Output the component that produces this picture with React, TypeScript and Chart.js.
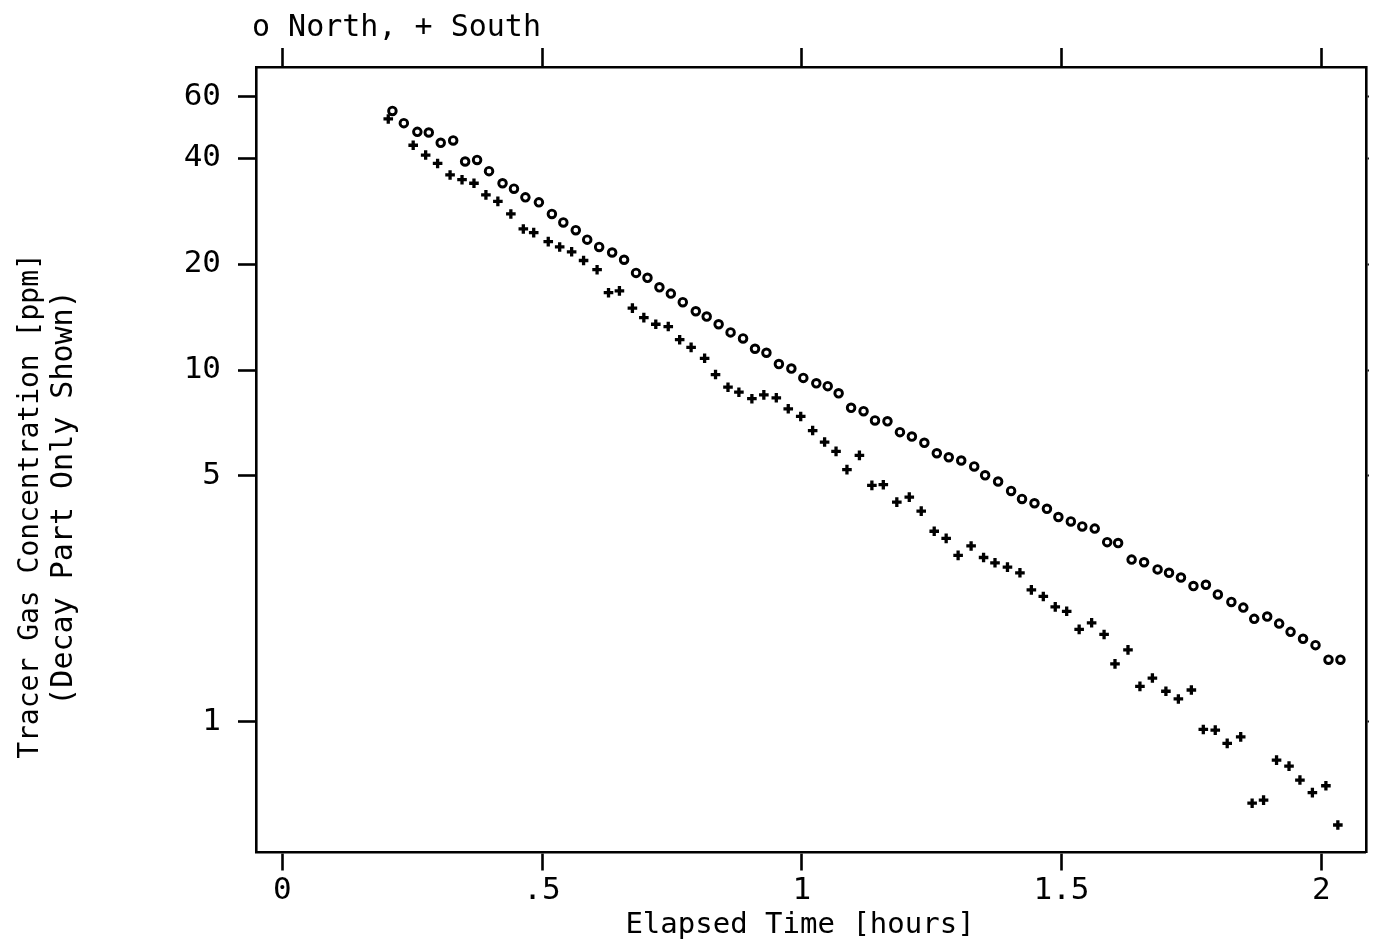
import React, { useEffect, useRef } from "react";
import { Chart, registerables } from "chart.js";

Chart.register(...registerables);

// Elapsed time [hours] and tracer gas concentration [ppm]
const northTime = [
  0.212, 0.234, 0.26, 0.282, 0.305, 0.329, 0.352, 0.375, 0.398, 0.424,
  0.446, 0.468, 0.494, 0.519, 0.541, 0.565, 0.587, 0.61, 0.635, 0.658,
  0.681, 0.703, 0.726, 0.748, 0.771, 0.796, 0.817, 0.84, 0.863, 0.887,
  0.91, 0.932, 0.956, 0.98, 1.003, 1.028, 1.05, 1.071, 1.095, 1.119,
  1.141, 1.165, 1.189, 1.212, 1.236, 1.26, 1.283, 1.307, 1.332, 1.353,
  1.378, 1.403, 1.424, 1.448, 1.472, 1.494, 1.518, 1.54, 1.564, 1.588,
  1.609, 1.635, 1.659, 1.685, 1.707, 1.73, 1.754, 1.778, 1.801, 1.827,
  1.85, 1.871, 1.896, 1.919, 1.941, 1.965, 1.989, 2.014, 2.037,
];
const northConc = [
  54.6, 50.4, 47.6, 47.4, 44.3, 45.0, 39.2, 39.6, 36.8, 34.0,
  32.8, 31.0, 30.0, 27.8, 26.3, 25.0, 23.5, 22.4, 21.6, 20.6,
  18.9, 18.3, 17.2, 16.5, 15.6, 14.7, 14.2, 13.5, 12.8, 12.3,
  11.5, 11.2, 10.4, 10.1, 9.5, 9.17, 9.0, 8.59, 7.81, 7.64,
  7.19, 7.15, 6.66, 6.47, 6.21, 5.8, 5.65, 5.53, 5.32, 5.02,
  4.82, 4.53, 4.3, 4.18, 4.03, 3.82, 3.71, 3.59, 3.54, 3.24,
  3.22, 2.89, 2.84, 2.71, 2.65, 2.57, 2.43, 2.45, 2.3, 2.19,
  2.11, 1.96, 1.99, 1.9, 1.8, 1.72, 1.65, 1.5, 1.5,
];
const southTime = [
  0.204, 0.252, 0.276, 0.299, 0.323, 0.346, 0.369, 0.392, 0.415, 0.44,
  0.464, 0.484, 0.512, 0.534, 0.557, 0.58, 0.606, 0.628, 0.649, 0.674,
  0.696, 0.719, 0.743, 0.765, 0.787, 0.813, 0.834, 0.858, 0.879, 0.904,
  0.927, 0.951, 0.974, 0.998, 1.021, 1.044, 1.066, 1.087, 1.111, 1.135,
  1.157, 1.183, 1.207, 1.23, 1.255, 1.278, 1.301, 1.326, 1.35, 1.372,
  1.396, 1.42, 1.442, 1.465, 1.488, 1.51, 1.534, 1.558, 1.582, 1.603,
  1.628, 1.651, 1.675, 1.701, 1.725, 1.75, 1.773, 1.796, 1.819, 1.845,
  1.867, 1.889, 1.914, 1.938, 1.959, 1.983, 2.009, 2.032,
];
const southConc = [
  51.8, 43.6, 40.9, 38.7, 35.9, 34.8, 34.0, 31.5, 30.2, 27.8,
  25.2, 24.6, 23.2, 22.4, 21.7, 20.5, 19.3, 16.6, 16.8, 15.0,
  14.1, 13.5, 13.3, 12.2, 11.6, 10.8, 9.71, 8.94, 8.65, 8.29,
  8.5, 8.34, 7.76, 7.38, 6.73, 6.24, 5.87, 5.21, 5.72, 4.7,
  4.72, 4.21, 4.35, 3.97, 3.48, 3.32, 2.97, 3.16, 2.93, 2.83,
  2.75, 2.65, 2.37, 2.27, 2.12, 2.06, 1.83, 1.91, 1.77, 1.46,
  1.6, 1.26, 1.33, 1.22, 1.16, 1.23, 0.95, 0.946, 0.867, 0.905,
  0.586, 0.598, 0.777, 0.747, 0.682, 0.628, 0.657, 0.508,
];

const xTickValues = [0, 0.5, 1, 1.5, 2];
const xTickLabels = ["0", ".5", "1", "1.5", "2"];
const yTickValues = [1, 5, 10, 20, 40, 60];
const yTickLabels = ["1", "5", "10", "20", "40", "60"];

const headerText = "o North, + South";
const xTitle = "Elapsed Time [hours]";
const yTitleLines = ["Tracer Gas Concentration [ppm]", "(Decay Part Only Shown)"];

const FONT = "'DejaVu Sans Mono', monospace";

const titlesPlugin = {
  id: "titles",
  afterDraw(chart: any) {
    const ctx = chart.ctx;
    ctx.save();
    ctx.fillStyle = "#000";
    ctx.textBaseline = "alphabetic";
    ctx.font = `30px ${FONT}`;
    ctx.textAlign = "left";
    ctx.fillText(headerText, 252, 36);
    ctx.font = `29px ${FONT}`;
    ctx.textAlign = "center";
    ctx.fillText(xTitle, 800, 933);
    ctx.save();
    ctx.font = `28px ${FONT}`;
    ctx.translate(38, 506);
    ctx.rotate(-Math.PI / 2);
    ctx.fillText(yTitleLines[0], 0, 0);
    ctx.restore();
    ctx.save();
    ctx.font = `30px ${FONT}`;
    ctx.translate(72, 498);
    ctx.rotate(-Math.PI / 2);
    ctx.fillText(yTitleLines[1], 0, 0);
    ctx.restore();
    ctx.restore();
  },
};

const LINE = 2.6;

export default function App() {
  const ref = useRef<HTMLCanvasElement>(null);
  useEffect(() => {
    if (!ref.current) return;
    const setX = (s: any) => {
      s.ticks = xTickValues.map((v) => ({ value: v }));
    };
    const setY = (s: any) => {
      s.ticks = yTickValues.map((v) => ({ value: v }));
    };
    const xMin = -0.0506;
    const xMax = 2.086;
    const yMin = 0.4243;
    const yMax = 72.8;
    const chart = new Chart(ref.current, {
      type: "scatter",
      data: {
        datasets: [
          {
            label: "North",
            data: northTime.map((t, i) => ({ x: t, y: northConc[i] })),
            pointStyle: "circle",
            pointRadius: 3.8,
            pointBorderWidth: 2.9,
            pointBackgroundColor: "rgba(255,255,255,0)",
            pointBorderColor: "#000",
            showLine: false,
          },
          {
            label: "South",
            data: southTime.map((t, i) => ({ x: t, y: southConc[i] })),
            pointStyle: "cross",
            pointRadius: 4.8,
            pointBorderWidth: 3.3,
            pointBackgroundColor: "#000",
            pointBorderColor: "#000",
            showLine: false,
          },
        ],
      },
      options: {
        responsive: false,
        devicePixelRatio: 1,
        animation: false,
        layout: { padding: 0 },
        plugins: {
          legend: { display: false },
          tooltip: { enabled: false },
          title: { display: false },
        },
        scales: {
          x: {
            type: "linear",
            position: "bottom",
            min: xMin,
            max: xMax,
            afterBuildTicks: setX,
            afterFit: (s: any) => {
              s.height = 91.5;
            },
            grid: {
              display: true,
              drawOnChartArea: false,
              drawTicks: true,
              tickLength: 18,
              tickWidth: LINE,
              tickColor: "#000",
            },
            border: { display: true, color: "#000", width: LINE },
            ticks: {
              autoSkip: false,
              maxRotation: 0,
              color: "#000",
              padding: 2,
              font: { family: FONT, size: 31 },
              callback: (v: any, i: number) => xTickLabels[i],
            },
          },
          x2: {
            type: "linear",
            position: "top",
            min: xMin,
            max: xMax,
            afterBuildTicks: setX,
            afterFit: (s: any) => {
              s.height = 67;
            },
            grid: {
              display: true,
              drawOnChartArea: false,
              drawTicks: true,
              tickLength: 19,
              tickWidth: LINE,
              tickColor: "#000",
            },
            border: { display: true, color: "#000", width: LINE },
            ticks: { display: false },
          },
          y: {
            type: "logarithmic",
            position: "left",
            min: yMin,
            max: yMax,
            afterBuildTicks: setY,
            afterFit: (s: any) => {
              s.width = 256;
            },
            grid: {
              display: true,
              drawOnChartArea: false,
              drawTicks: true,
              tickLength: 18,
              tickWidth: LINE,
              tickColor: "#000",
            },
            border: { display: true, color: "#000", width: LINE },
            ticks: {
              autoSkip: false,
              color: "#000",
              padding: 17,
              font: { family: FONT, size: 31 },
              callback: (v: any, i: number) => yTickLabels[i],
            },
          },
          y2: {
            type: "logarithmic",
            position: "right",
            min: yMin,
            max: yMax,
            afterBuildTicks: setY,
            afterFit: (s: any) => {
              s.width = 7;
            },
            grid: {
              display: true,
              drawOnChartArea: false,
              drawTicks: true,
              tickLength: 3,
              tickWidth: 2,
              tickColor: "#000",
            },
            border: { display: true, color: "#000", width: LINE },
            ticks: { display: false },
          },
        },
      },
      plugins: [titlesPlugin],
    } as any);
    return () => chart.destroy();
  }, []);
  return (
    <div style={{ position: "absolute", left: 0, top: 0, width: 1374, height: 944, background: "#fff" }}>
      <canvas ref={ref} width={1374} height={944} style={{ display: "block" }} />
    </div>
  );
}
